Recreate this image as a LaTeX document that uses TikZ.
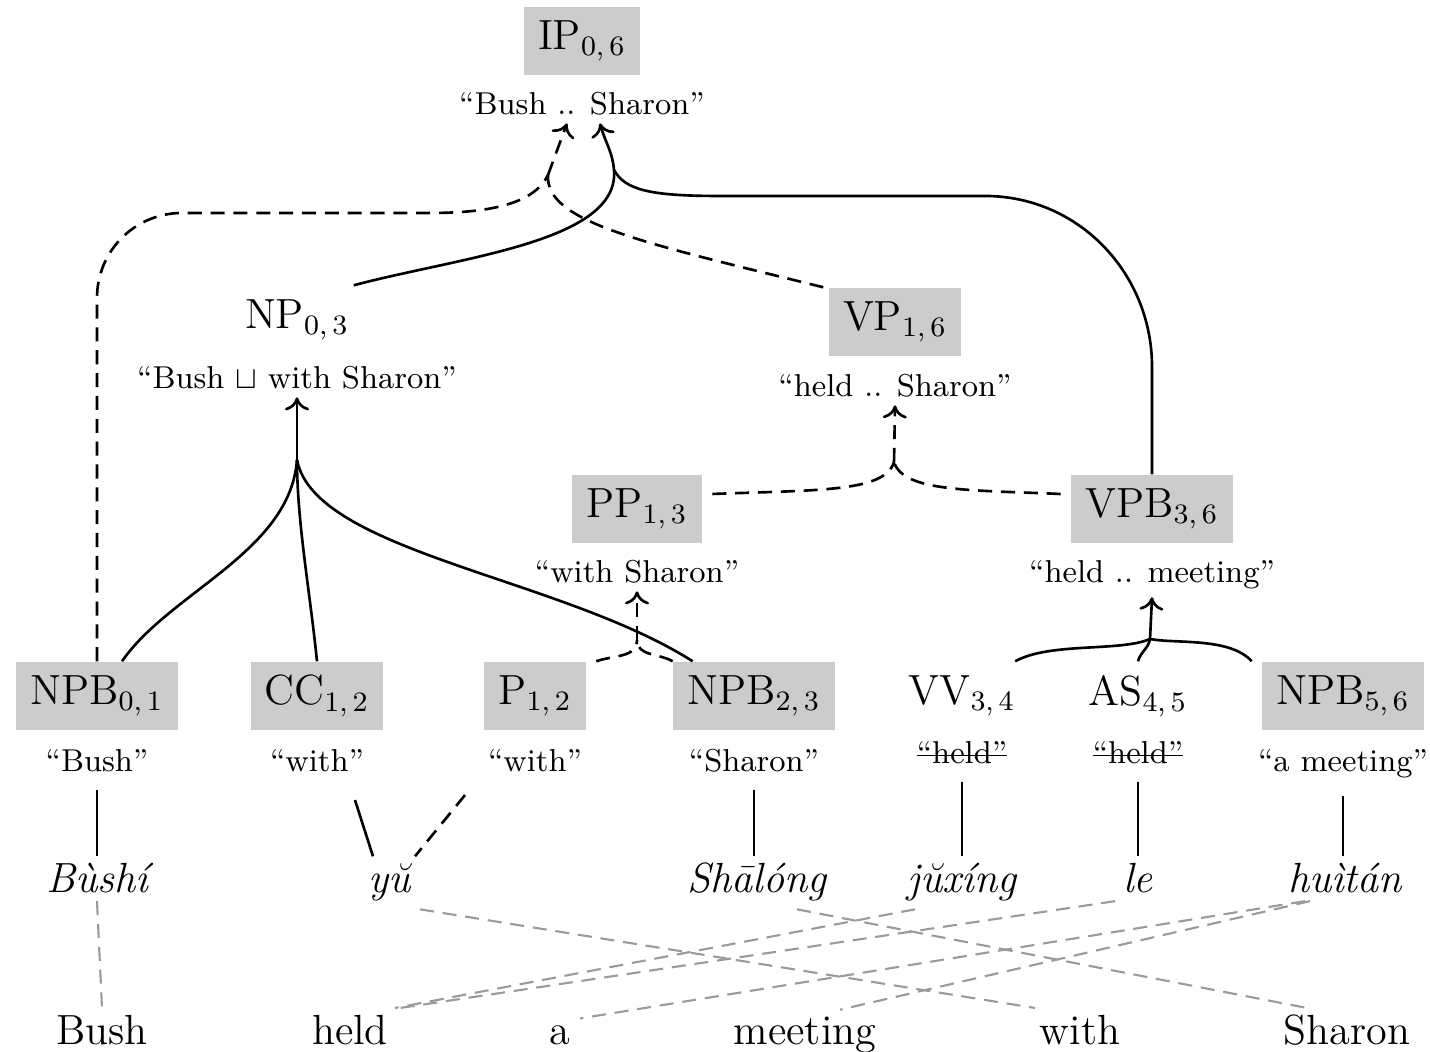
\documentclass[tikz,border=0pt]{standalone}
\usepackage{amsmath,amssymb}
\usepackage{xcolor}
\usepackage{tikz}
\usetikzlibrary{arrows.meta}
\definecolor{frFill}{HTML}{CCCCCC}
\definecolor{frLink}{HTML}{9A9A9A}
\newcommand\frstrike[1]{\setbox0\hbox{#1}\rlap{\rule[0.55ex]{\wd0}{0.5pt}}\box0}
\tikzset{
  fr diagram/.style={line join=round},
  fr node/.style={font=\large, inner xsep=4pt, inner ysep=2pt,
    minimum height=0.68cm},
  fr box/.style={fr node, fill=frFill},
  fr span/.style={font=\small, inner sep=2pt, anchor=base},
  fr source/.style={font=\large\itshape, inner sep=2pt, anchor=base},
  fr target/.style={font=\large, inner sep=2pt, anchor=base},
  fr edge/.style={line width=0.75pt},
  fr hedge/.style={fr edge, dash pattern=on 4pt off 2.5pt},
  fr arrow/.style={-{To[length=1.3mm,width=2.4mm]}},
  fr link/.style={draw=frLink, line width=0.6pt, dash pattern=on 4pt off 2.5pt}
}

\begin{document}
\begin{tikzpicture}[fr diagram]
\useasboundingbox (0,0) rectangle (14.3,10.52);
% upper part of the forest
\node[fr box] (ip) at (5.82,10.11) {IP$_{0,\,6}$};
\node[fr span] (ip-q) at (5.82,9.37) {``Bush .. Sharon''};
\node[fr node] (np) at (2.97,7.32) {NP$_{0,\,3}$};
\node[fr span] (np-q) at (2.97,6.63) {``Bush $\sqcup$ with Sharon''};
\node[fr box] (vp) at (8.95,7.30) {VP$_{1,\,6}$};
\node[fr span] (vp-q) at (8.95,6.55) {``held .. Sharon''};
\node[fr box] (pp) at (6.37,5.43) {PP$_{1,\,3}$};
\node[fr span] (pp-q) at (6.37,4.69) {``with Sharon''};
\node[fr box] (vpb) at (11.52,5.43) {VPB$_{3,\,6}$};
\node[fr span] (vpb-q) at (11.52,4.69) {``held .. meeting''};
% preterminals and their spans
\foreach \name/\x/\lab/\gloss/\shade/\dy in {
  npb01/0.97/{NPB$_{0,\,1}$}/{``Bush''}/frFill/0,
  cc12/3.17/{CC$_{1,\,2}$}/{``with''}/frFill/0,
  p12/5.35/{P$_{1,\,2}$}/{``with''}/frFill/0,
  npb23/7.54/{NPB$_{2,\,3}$}/{``Sharon''}/frFill/0,
  vv34/9.62/{VV$_{3,\,4}$}/{\frstrike{``held''}}/none/0.08,
  as45/11.38/{AS$_{4,\,5}$}/{\frstrike{``held''}}/none/0.08,
  npb56/13.43/{NPB$_{5,\,6}$}/{``a meeting''}/frFill/0}{
  \node[fr node, fill=\shade] (\name) at (\x,3.56) {\lab};
  \node[fr span] (\name-q) at (\x,2.80+\dy) {\gloss};
}
% source and target sentences
\foreach \name/\x/\word in {bushi/0.97/Bùshí, yu/3.90/yŭ, shalong/7.57/Shālóng,
  juxing/9.62/jŭxíng, le/11.38/le, huitan/13.45/huìtán}
  \node[fr source] (\name) at (\x,1.59) {\word};
\foreach \name/\x/\word in {bush/1.02/Bush, held/3.50/held, a/5.60/a,
  meeting/8.05/meeting, with/10.80/with, sharon/13.47/Sharon}
  \node[fr target] (\name) at (\x,0.07) {\word};

% junctions of the hyperedges
\coordinate (j-np) at (2.97,5.92);
\coordinate (j-pp) at (6.37,4.12);
\coordinate (j-vp) at (8.94,5.90);
\coordinate (j-vpb) at (11.50,4.13);
\coordinate (j-ips) at (6.14,8.82);
\coordinate (j-ipd) at (5.48,8.77);

% NP -> NPB CC NPB
\draw[fr edge] ([xshift=2.5mm]npb01.north) .. controls (1.7,4.6) and (2.9,5.0) .. (j-np);
\draw[fr edge] (cc12.north) .. controls (3.10,4.6) and (2.97,5.3) .. (j-np);
\draw[fr edge] ([xshift=2mm]npb23.north west) .. controls (5.6,4.75) and (3.15,5.0) .. (j-np);
\draw[fr edge, fr arrow] (j-np) -- (np-q.south);
% PP -> P NPB
\draw[fr hedge] ([xshift=1mm]p12.north east) to[out=20,in=-90] (j-pp);
\draw[fr hedge] (npb23.north west) to[out=150,in=-90] (j-pp);
\draw[fr hedge, fr arrow] (j-pp) -- (pp-q.south);
% VP -> PP VPB
\draw[fr hedge] ([xshift=1mm,yshift=1.5mm]pp.east) .. controls (8.2,5.62) and (8.85,5.6) .. (j-vp);
\draw[fr hedge] ([xshift=-1mm,yshift=1.5mm]vpb.west) .. controls (9.7,5.62) and (9.03,5.6) .. (j-vp);
\draw[fr hedge, fr arrow] (j-vp) -- (vp-q.south);
% VPB -> VV AS NPB
\draw[fr edge] ([xshift=-1.5mm]vv34.north east) .. controls (10.5,4.1) and (11.2,4.0) .. (j-vpb);
\draw[fr edge] (as45.north) to[out=75,in=-100] (j-vpb);
\draw[fr edge] ([xshift=-1mm]npb56.north west) .. controls (12.3,4.15) and (11.75,4.08) .. (j-vpb);
\draw[fr edge, fr arrow] (j-vpb) -- (vpb-q.south);
% IP -> NP VPB
\draw[fr edge] ([xshift=-1mm]np.north east) .. controls (4.6,7.95) and (6.2,8.1) .. (j-ips);
\draw[fr edge] (vpb.north) -- (11.52,6.85) to[out=90,in=0] (9.85,8.56) -- (7.2,8.56)
  .. controls (6.5,8.56) and (6.25,8.62) .. (j-ips);
\draw[fr edge, fr arrow] (j-ips) to[out=95,in=-75] ([xshift=1.8mm]ip-q.south);
% IP -> NPB VP
\draw[fr hedge] (npb01.north) -- (0.97,7.54) to[out=90,in=180] (1.82,8.39) -- (4.3,8.39)
  .. controls (4.95,8.39) and (5.35,8.5) .. (j-ipd);
\draw[fr hedge] ([xshift=-0.5mm]vp.north west) .. controls (6.4,8.1) and (5.45,8.3) .. (j-ipd);
\draw[fr hedge, fr arrow] (j-ipd) -- ([xshift=-1.5mm]ip-q.south);

% preterminals to source words
\draw[fr edge, shorten <=1mm] (npb01-q.south) -- (npb01-q.south |- bushi.north);
\draw[fr edge] ([xshift=3.8mm,yshift=-2mm]cc12-q.south) -- ([xshift=-1.7mm]yu.north);
\draw[fr hedge] ([xshift=-7mm,yshift=-1.5mm]p12-q.south) -- ([xshift=2.5mm]yu.north);
\draw[fr edge, shorten <=1mm] (npb23-q.south) -- (npb23-q.south |- shalong.north);
\draw[fr edge, shorten <=1mm] (vv34-q.south) -- (vv34-q.south |- juxing.north);
\draw[fr edge, shorten <=1mm] (as45-q.south) -- (as45-q.south |- le.north);
\draw[fr edge, shorten <=1mm] (npb56-q.south) -- (npb56-q.south |- huitan.north);

% word alignment
\draw[fr link] (bushi.south) -- (bush.north);
\draw[fr link] ([xshift=3mm]yu.south) -- ([xshift=-4.5mm]with.north);
\draw[fr link] ([xshift=4mm]shalong.south) -- ([xshift=-4.2mm]sharon.north);
\draw[fr link] ([xshift=-4.7mm]juxing.south) -- ([xshift=4.5mm]held.north);
\draw[fr link] ([xshift=-2.3mm]le.south) -- ([xshift=5mm]held.north);
\draw[fr link] ([xshift=-4mm]huitan.south) -- ([xshift=2mm]a.north);
\draw[fr link] ([xshift=-3.5mm]huitan.south) -- ([xshift=3.5mm]meeting.north);
\end{tikzpicture}
\end{document}
